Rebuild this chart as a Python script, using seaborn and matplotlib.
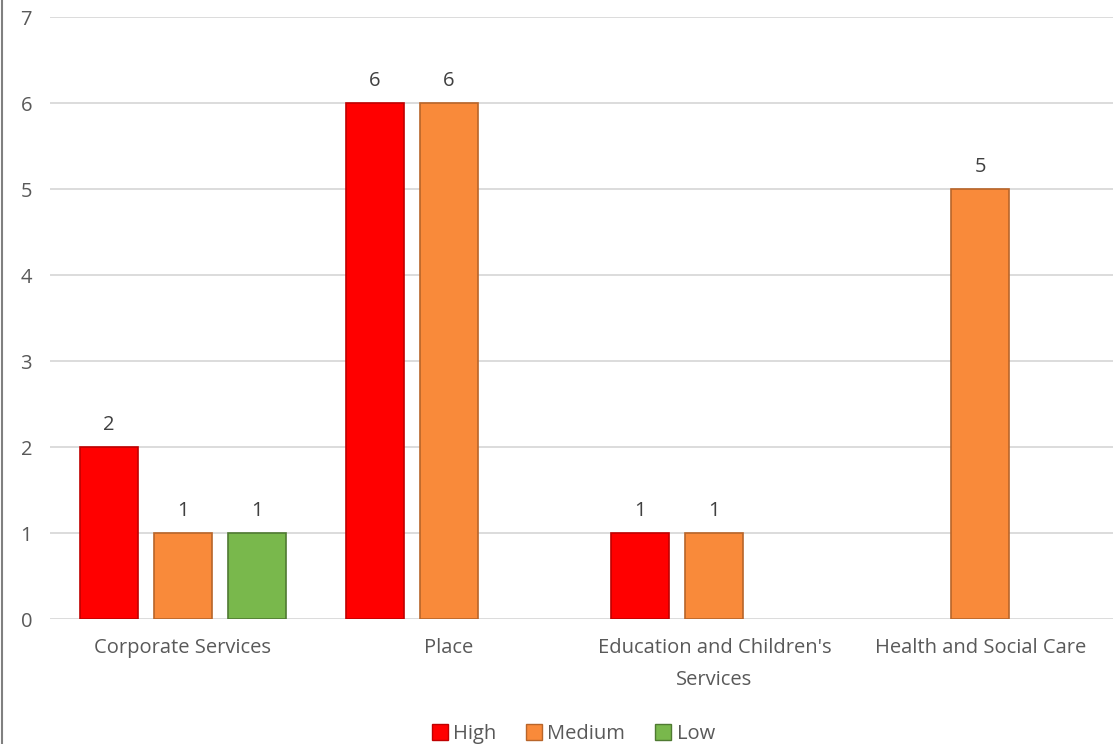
import numpy as np
import pandas as pd
import matplotlib
matplotlib.use("Agg")
import matplotlib.pyplot as plt
import seaborn as sns
from matplotlib.lines import Line2D

categories = ["Corporate Services", "Place", "Education and Children's\nServices", "Health and Social Care"]
levels = ["High", "Medium", "Low"]
high = [2, 6, 1, np.nan]
medium = [1, 6, 1, 5]
low = [1, np.nan, np.nan, np.nan]

colors = {"High": "#FF0000", "Medium": "#F98A3A", "Low": "#79B84C"}
edges = {"High": "#C00000", "Medium": "#B8652A", "Low": "#4F7A32"}

rows = []
for lvl, vals in zip(levels, [high, medium, low]):
    for cat, v in zip(categories, vals):
        if not np.isnan(v):
            rows.append({"Area": cat, "Risk": lvl, "Count": v})
df = pd.DataFrame(rows)

sns.set_theme(style="white")
plt.rcParams["font.family"] = ["Open Sans", "DejaVu Sans"]

fig = plt.figure(figsize=(11.13, 7.44), dpi=100)
ax = fig.add_axes([0.045, 0.168, 0.955, 0.809])

sns.barplot(data=df, x="Area", y="Count", hue="Risk", order=categories,
            hue_order=levels, palette=colors, width=0.835, gap=0.216,
            saturation=1, errorbar=None, legend=False, ax=ax, zorder=3)

# darker edges per series
for cont, lvl in zip(ax.containers, levels):
    for bar in cont:
        bar.set_edgecolor(edges[lvl])
        bar.set_linewidth(1.2)
    labels = [f"{int(h)}" if h > 0 else "" for h in cont.datavalues]
    ax.bar_label(cont, labels=labels, padding=9, fontsize=14.5, color="#404040")

ax.set_xlim(-0.5, 3.5)
ax.set_ylim(0, 7)
ax.set_yticks(range(0, 8))
ax.yaxis.grid(True, color="#D9D9D9", linewidth=1.3, zorder=0)
ax.set_axisbelow(True)
for s in ["top", "right", "left", "bottom"]:
    ax.spines[s].set_visible(False)
ax.tick_params(axis="both", length=0, labelsize=14.5, colors="#595959")
ax.tick_params(axis="x", pad=13.5)
ax.tick_params(axis="y", pad=13)
for t in ax.get_xticklabels():
    t.set_linespacing(1.8)
ax.set_xlabel("")
ax.set_ylabel("")

handles = [Line2D([], [], marker="s", linestyle="", markersize=11,
                  markerfacecolor=colors[l], markeredgecolor=edges[l]) for l in levels]
fig.legend(handles, levels, loc="lower center", bbox_to_anchor=(0.515, -0.025), ncol=3,
           frameon=False, fontsize=14.5, handlelength=0.8, handletextpad=0.25,
           columnspacing=1.5, labelcolor="#595959")

# left chart-frame border
fig.add_artist(Line2D([0.002, 0.002], [0, 1], transform=fig.transFigure,
                      color="#808080", linewidth=1.5))

fig.savefig("out.png", dpi=100)
